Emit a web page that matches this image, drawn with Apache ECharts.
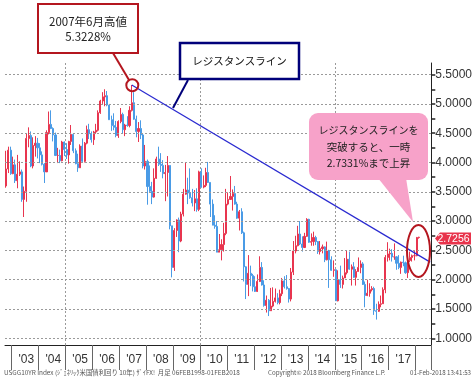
<!DOCTYPE html>
<html><head><meta charset="utf-8">
<script src="https://cdn.jsdelivr.net/npm/echarts@6/dist/echarts.min.js"></script>
<style>html,body{margin:0;padding:0;background:#fff}#c{width:475px;height:379px}</style>
</head><body><div id="c"></div>
<script>
// Monthly categories Oct 2002 .. Jul 2018 (axis extends a little past the data)
const categories = [];
for (let y = 2002; y <= 2018; y++) {
  for (let m = 1; m <= 12; m++) {
    if (y === 2002 && m < 10) continue;
    if (y === 2018 && m > 7) continue;
    categories.push(y + '-' + String(m).padStart(2, '0'));
  }
}

// US 10Y yield, monthly OHLC (Oct 2002 .. Feb 2018), read/
const opens = [
  3.60,3.89,4.21,
  3.81,3.96,3.69,3.80,3.84,3.37,3.51,4.41,4.46,3.94,4.29,4.33,
  4.25,4.13,3.97,3.84,4.51,4.65,4.58,4.47,4.12,4.12,4.03,4.35,
  4.22,4.13,4.36,4.48,4.20,3.98,3.91,4.28,4.02,4.33,4.56,4.49,
  4.39,4.52,4.55,4.85,5.05,5.12,5.14,4.98,4.73,4.63,4.60,4.46,
  4.70,4.82,4.56,4.64,4.63,4.89,5.02,4.74,4.53,4.58,4.47,3.94,
  4.02,3.59,3.51,3.41,3.73,4.06,3.97,3.95,3.81,3.83,3.95,2.92,
  2.21,2.84,3.02,2.66,3.12,3.46,3.53,3.48,3.40,3.31,3.38,3.20,
  3.84,3.58,3.61,3.83,3.66,3.29,2.93,2.91,2.47,2.51,2.60,2.79,
  3.29,3.37,3.42,3.47,3.29,3.05,3.16,2.80,2.22,1.92,2.11,2.07,
  1.88,1.80,1.97,2.21,1.91,1.56,1.65,1.47,1.55,1.63,1.69,1.61,
  1.76,1.98,1.88,1.85,1.67,2.13,2.49,2.58,2.78,2.61,2.55,2.74,
  3.03,2.64,2.65,2.72,2.65,2.48,2.53,2.56,2.34,2.49,2.34,2.16,
  2.17,1.64,2.00,1.92,2.03,2.12,2.35,2.18,2.22,2.04,2.14,2.21,
  2.27,1.92,1.73,1.77,1.83,1.85,1.47,1.46,1.58,1.59,1.83,2.38,
  2.44,2.45,2.39,2.39,2.28,2.21,2.30,2.29,2.12,2.33,2.38,2.41,
  2.41,2.72
];
const closes = [
  3.89,4.21,3.81,
  3.96,3.69,3.80,3.84,3.37,3.51,4.41,4.46,3.94,4.29,4.33,4.25,
  4.13,3.97,3.84,4.51,4.65,4.58,4.47,4.12,4.12,4.03,4.35,4.22,
  4.13,4.36,4.48,4.20,3.98,3.91,4.28,4.02,4.33,4.56,4.49,4.39,
  4.52,4.55,4.85,5.05,5.12,5.14,4.98,4.73,4.63,4.60,4.46,4.70,
  4.82,4.56,4.64,4.63,4.89,5.02,4.74,4.53,4.58,4.47,3.94,4.02,
  3.59,3.51,3.41,3.73,4.06,3.97,3.95,3.81,3.83,3.95,2.92,2.21,
  2.84,3.02,2.66,3.12,3.46,3.53,3.48,3.40,3.31,3.38,3.20,3.84,
  3.58,3.61,3.83,3.66,3.29,2.93,2.91,2.47,2.51,2.60,2.79,3.29,
  3.37,3.42,3.47,3.29,3.05,3.16,2.80,2.22,1.92,2.11,2.07,1.88,
  1.80,1.97,2.21,1.91,1.56,1.65,1.47,1.55,1.63,1.69,1.61,1.76,
  1.98,1.88,1.85,1.67,2.13,2.49,2.58,2.78,2.61,2.55,2.74,3.03,
  2.64,2.65,2.72,2.65,2.48,2.53,2.56,2.34,2.49,2.34,2.16,2.17,
  1.64,2.00,1.92,2.03,2.12,2.35,2.18,2.22,2.04,2.14,2.21,2.27,
  1.92,1.73,1.77,1.83,1.85,1.47,1.46,1.58,1.59,1.83,2.38,2.44,
  2.45,2.39,2.39,2.28,2.21,2.30,2.29,2.12,2.33,2.38,2.41,2.41,
  2.72,2.7256
];
const lows = [
  3.57,3.82,3.79,
  3.80,3.65,3.56,3.77,3.33,3.07,3.33,4.26,3.92,3.90,4.10,4.07,
  3.99,3.95,3.65,3.84,4.48,4.57,4.36,4.11,3.99,3.99,4.02,4.11,
  4.06,3.98,4.30,4.16,3.97,3.84,3.91,4.00,4.00,4.31,4.40,4.34,
  4.30,4.49,4.53,4.83,5.00,4.96,4.96,4.73,4.54,4.55,4.43,4.42,
  4.67,4.50,4.45,4.61,4.60,4.87,4.73,4.43,4.35,4.40,3.90,3.88,
  3.28,3.48,3.29,3.40,3.72,3.94,3.84,3.73,3.34,3.42,2.86,2.04,
  2.15,2.73,2.47,2.64,3.08,3.45,3.29,3.38,3.25,3.17,3.16,3.17,
  3.57,3.56,3.58,3.65,3.07,2.93,2.87,2.47,2.47,2.33,2.48,2.76,
  3.27,3.37,3.18,3.28,3.04,2.84,2.78,1.97,1.67,1.72,1.89,1.80,
  1.79,1.79,1.96,1.90,1.54,1.44,1.38,1.47,1.53,1.61,1.58,1.58,
  1.72,1.85,1.83,1.61,1.63,2.08,2.45,2.57,2.59,2.48,2.54,2.73,
  2.63,2.58,2.58,2.59,2.44,2.43,2.45,2.30,2.33,1.86,2.15,2.05,
  1.64,1.63,1.86,1.85,2.03,2.09,2.17,1.90,2.03,1.90,2.14,2.11,
  1.91,1.53,1.72,1.71,1.80,1.40,1.32,1.45,1.53,1.59,1.77,2.31,
  2.33,2.31,2.34,2.17,2.18,2.10,2.23,2.10,2.03,2.30,2.31,2.33,
  2.40,2.70
];
const highs = [
  4.20,4.27,4.27,
  4.10,4.05,4.13,4.02,3.88,3.59,4.49,4.60,4.53,4.43,4.45,4.42,
  4.33,4.19,3.99,4.55,4.87,4.89,4.60,4.51,4.25,4.22,4.37,4.36,
  4.33,4.37,4.64,4.48,4.24,4.15,4.31,4.41,4.35,4.63,4.66,4.53,
  4.54,4.66,4.89,5.07,5.20,5.25,5.22,5.00,4.80,4.84,4.71,4.72,
  4.93,4.85,4.66,4.79,4.96,5.3228,5.20,4.80,4.69,4.72,4.49,4.30,
  4.05,3.95,3.67,3.90,4.10,4.27,4.16,4.04,3.96,4.11,3.95,2.92,
  2.88,3.03,3.06,3.16,3.55,4.00,3.74,3.90,3.55,3.53,3.56,3.86,
  3.90,3.78,3.91,4.01,3.66,3.37,3.10,3.00,2.78,2.69,2.97,3.55,
  3.49,3.77,3.54,3.60,3.33,3.19,3.22,2.82,2.23,2.42,2.24,2.10,
  2.06,2.09,2.40,2.30,1.99,1.73,1.67,1.86,1.87,1.85,1.77,1.83,
  2.03,2.06,2.08,1.86,2.20,2.66,2.75,2.92,3.00,2.74,2.80,3.05,
  3.04,2.79,2.82,2.75,2.66,2.66,2.60,2.57,2.65,2.51,2.40,2.33,
  2.18,2.16,2.24,2.07,2.37,2.50,2.48,2.26,2.30,2.18,2.38,2.33,
  2.30,1.97,2.00,1.94,1.89,1.88,1.59,1.63,1.73,1.87,2.42,2.64,
  2.53,2.52,2.62,2.40,2.42,2.31,2.41,2.31,2.34,2.48,2.43,2.50,
  2.73,2.7331
];

const yLabelValues = [1.0,1.5,2.0,2.5,3.0,3.5,4.0,4.5,5.0,5.5];
const yTickValues = [1.0,1.25,1.5,1.75,2.0,2.25,2.5,2.75,3.0,3.25,3.5,3.75,4.0,4.25,4.5,4.75,5.0,5.25,5.5];
const yearStarts = ['2003-01','2004-01','2005-01','2006-01','2007-01','2008-01','2009-01','2010-01','2011-01','2012-01','2013-01','2014-01','2015-01','2016-01','2017-01','2018-01'];
const gridYears = ['2005-01','2010-01','2015-01'];
const yearLabelMonths = ['2003-07','2004-07','2005-07','2006-07','2007-07','2008-07','2009-07','2010-07','2011-07','2012-07','2013-07','2014-07','2015-07','2016-07','2017-07'];
const resistanceLine = [['2007-06', 5.3228], ['2018-07', 2.30]];
const lastPrice = '2.7256';
const noteHigh = ['2007年6月高値', '5.3228%'];
const noteResist = 'レジスタンスライン';
const noteBreak = ['レジスタンスラインを', '突破すると、一時', '2.7331%まで上昇'];
const footer = ['USGG10YR Index (ｼﾞｪﾈﾘｯｸ米国債利回り 10年) ｻﾞｲFX!  月足 06FEB1998-01FEB2018',
                'Copyright© 2018 Bloomberg Finance L.P.', '01-Feb-2018 13:41:53'];

const candleData = categories.map((c, i) => i < opens.length ? [opens[i], closes[i], lows[i], highs[i]] : '-');

const RED = '#b4161f', NAVY = '#00007a', PINK = '#f7a2c9';
const jp = 'Noto Sans CJK JP';
const chart = echarts.init(document.getElementById('c'), null, {renderer: 'canvas'});
chart.setOption({
  animation: false,
  backgroundColor: '#fff',
  grid: {left: 5, right: 42, top: 63, bottom: 34},
  xAxis: {
    type: 'category', data: categories, boundaryGap: true,
    axisLine: {show: true, lineStyle: {color: '#222', width: 1}},
    axisTick: {show: true, length: 25, interval: (i, v) => yearStarts.includes(v), lineStyle: {color: '#666'}},
    axisLabel: {interval: (i, v) => yearLabelMonths.includes(v), formatter: v => "'" + v.slice(2, 4),
      margin: 9, fontSize: 12, color: '#333', fontFamily: 'Liberation Sans'},
    splitLine: {show: true, interval: (i, v) => gridYears.includes(v), lineStyle: {color: '#9a9a9a', type: [2, 2], width: 1}}
  },
  yAxis: {
    type: 'value', position: 'right', min: 0.886, max: 5.698, scale: true,
    axisLine: {show: true, lineStyle: {color: '#222', width: 1}},
    axisTick: {show: true, length: 4, customValues: yTickValues, lineStyle: {color: '#222', width: 1.5}},
    axisLabel: {customValues: yLabelValues, formatter: v => Number(v).toFixed(4), margin: 4,
      fontSize: 12, color: '#333', fontFamily: 'Liberation Sans'},
    splitLine: {show: false}
  },
  series: [
    {
      type: 'candlestick', data: candleData, barWidth: '70%',
      itemStyle: {color: '#e8354f', color0: '#4a9be6', borderColor: '#e8354f', borderColor0: '#4a9be6', borderWidth: 1},
      markLine: {
        silent: true, symbol: ['none', 'none'], label: {show: false},
        lineStyle: {color: '#9a9a9a', type: [2, 2], width: 1},
        data: yLabelValues.map(v => ({yAxis: v}))
      },
      z: 3
    },
    {
      type: 'line', data: resistanceLine, showSymbol: false, symbol: 'none',
      lineStyle: {color: '#2a2ad0', width: 1.2}, z: 5
    }
  ],
  graphic: [
    // 2007 high note
    {type: 'rect', z: 100, shape: {x: 38, y: 4, width: 100, height: 49}, style: {fill: '#fff', stroke: RED, lineWidth: 2}},
    {type: 'text', z: 101, x: 88, y: 21.5, style: {text: noteHigh[0], font: '11.5px "' + jp + '"', fill: '#222', align: 'center', verticalAlign: 'middle'}},
    {type: 'text', z: 101, x: 88, y: 37, style: {text: noteHigh[1], font: '11.5px "' + jp + '"', fill: '#222', align: 'center', verticalAlign: 'middle'}},
    {type: 'line', z: 100, shape: {x1: 113, y1: 53, x2: 129, y2: 80}, style: {stroke: RED, lineWidth: 2}},
    {type: 'circle', z: 100, shape: {cx: 132.3, cy: 85.3, r: 6}, style: {fill: null, stroke: RED, lineWidth: 2}},
    // resistance label
    {type: 'rect', z: 100, shape: {x: 180, y: 43, width: 119, height: 36}, style: {fill: '#fff', stroke: NAVY, lineWidth: 2.5}},
    {type: 'text', z: 101, x: 239.5, y: 61, style: {text: noteResist, font: '10.5px "' + jp + '"', fill: '#111', align: 'center', verticalAlign: 'middle'}},
    {type: 'line', z: 100, shape: {x1: 188, y1: 80, x2: 173, y2: 108}, style: {stroke: NAVY, lineWidth: 2}},
    // pink callout
    {type: 'polygon', z: 100, shape: {points: [[378, 178], [406, 178], [413, 222]]}, style: {fill: PINK}},
    {type: 'rect', z: 100, shape: {x: 309, y: 113, width: 119, height: 67, r: 9}, style: {fill: PINK}},
    {type: 'text', z: 101, x: 368.5, y: 130.7, style: {text: noteBreak[0], font: '10px "' + jp + '"', fill: '#222', align: 'center', verticalAlign: 'middle'}},
    {type: 'text', z: 101, x: 368.5, y: 146.7, style: {text: noteBreak[1], font: '10.5px "' + jp + '"', fill: '#222', align: 'center', verticalAlign: 'middle'}},
    {type: 'text', z: 101, x: 368.5, y: 162.7, style: {text: noteBreak[2], font: '10.5px "' + jp + '"', fill: '#222', align: 'center', verticalAlign: 'middle'}},
    // ellipse around breakout
    {type: 'ellipse', z: 100, shape: {cx: 418.5, cy: 251, rx: 11.5, ry: 26}, style: {fill: null, stroke: RED, lineWidth: 2}},
    // last price tag
    {type: 'polygon', z: 100, shape: {points: [[435, 238.5], [440, 232.5], [471, 232.5], [471, 244.5], [440, 244.5]]}, style: {fill: '#e8334b'}},
    {type: 'text', z: 101, x: 453.5, y: 238.8, style: {text: lastPrice, font: '10.5px "Liberation Sans"', fill: '#fff', align: 'center', verticalAlign: 'middle'}},
    // footer
    {type: 'text', z: 101, x: 4, y: 373, style: {text: footer[0], font: '6.4px "' + jp + '"', fill: '#555', align: 'left', verticalAlign: 'middle'}},
    {type: 'text', z: 101, x: 268, y: 373, style: {text: footer[1], font: '6.2px "' + jp + '"', fill: '#555', align: 'left', verticalAlign: 'middle'}},
    {type: 'text', z: 101, x: 471, y: 373, style: {text: footer[2], font: '6.2px "' + jp + '"', fill: '#555', align: 'right', verticalAlign: 'middle'}}
  ]
});
</script></body></html>
